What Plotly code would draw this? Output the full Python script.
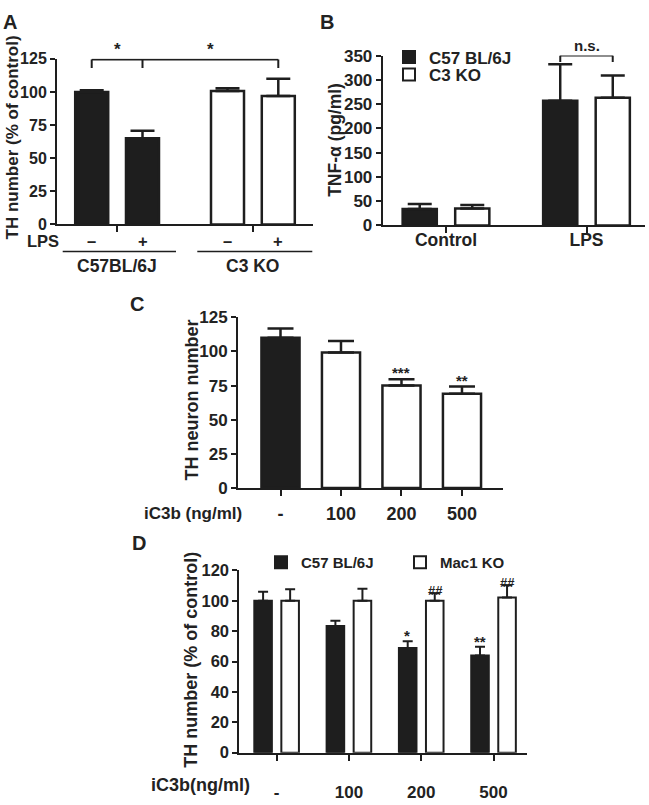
import plotly.graph_objects as go

# ---------------- data ----------------
A_groups = ["C57BL/6J", "C3 KO"]
A_lps_labels = ["–", "+"]
A_lps_minus = [100, 100.7]
A_lps_minus_err = [1.2, 2.0]
A_lps_plus = [65, 97]
A_lps_plus_err = [5.8, 13]

B_categories = ["Control", "LPS"]
B_c57 = [34, 257]
B_c57_err = [10, 75]
B_c3ko = [35, 263]
B_c3ko_err = [7, 46]

C_doses = ["-", "100", "200", "500"]
C_values = [110, 99.3, 75, 69]
C_err = [6.7, 8.3, 4.6, 5.3]
C_sig = ["", "", "***", "**"]

D_doses = ["-", "100", "200", "500"]
D_c57 = [100, 83.5, 69, 64]
D_c57_err = [6, 3.3, 4.3, 5.8]
D_c57_sig = ["", "", "*", "**"]
D_mac1 = [100, 100, 100, 102.2]
D_mac1_err = [7.6, 8, 5, 8.1]
D_mac1_sig = ["", "", "##", "##"]

# ---------------- style ----------------
W, H = 649, 805
BLACK = "#1e1e1e"
WHITE = "#ffffff"
TXT = "#222222"
FAM = "Liberation Sans, Arial, sans-serif"


def px(x):
    return x / W


def py(y):
    return 1 - y / H


def f(size):
    return dict(family=FAM, size=size, color=TXT, weight="bold")


fig = go.Figure()

# ---------- Panel A ----------
gapA = 0.252
offA = (1 - gapA) / 4
xsA = list(range(len(A_groups)))
colorsA = [BLACK, WHITE]
for vals, errs in [(A_lps_minus, A_lps_minus_err), (A_lps_plus, A_lps_plus_err)]:
    fig.add_trace(go.Bar(
        x=xsA, y=vals, xaxis="x", yaxis="y", showlegend=False,
        marker=dict(color=colorsA, line=dict(color=BLACK, width=2.5)),
        error_y=dict(type="data", array=errs, arrayminus=[0] * len(errs), symmetric=False,
                     color=BLACK, thickness=2.5, width=12),
    ))

# ---------- Panel B ----------
gapB = 0.253
offB = (1 - gapB) / 4
xsB = list(range(len(B_categories)))
fig.add_trace(go.Bar(
    x=xsB, y=B_c57, name="C57 BL/6J", xaxis="x2", yaxis="y2", legend="legend",
    marker=dict(color=BLACK, line=dict(color=BLACK, width=2.5)),
    error_y=dict(type="data", array=B_c57_err, arrayminus=[0, 0], symmetric=False,
                 color=BLACK, thickness=2.5, width=12),
))
fig.add_trace(go.Bar(
    x=xsB, y=B_c3ko, name="C3 KO", xaxis="x2", yaxis="y2", legend="legend2",
    marker=dict(color=WHITE, line=dict(color=BLACK, width=2.5)),
    error_y=dict(type="data", array=B_c3ko_err, arrayminus=[0, 0], symmetric=False,
                 color=BLACK, thickness=2.5, width=12),
))

# ---------- Panel C ----------
xsC = list(range(len(C_doses)))
fig.add_trace(go.Bar(
    x=xsC, y=C_values, xaxis="x3", yaxis="y3", showlegend=False, width=0.63,
    marker=dict(color=[BLACK] + [WHITE] * (len(C_values) - 1), line=dict(color=BLACK, width=2.5)),
    error_y=dict(type="data", array=C_err, arrayminus=[0] * len(C_err), symmetric=False,
                 color=BLACK, thickness=2.5, width=13),
))

# ---------- Panel D ----------
gapD = 0.236
offD = (1 - gapD) / 4
xsD = list(range(len(D_doses)))
fig.add_trace(go.Bar(
    x=xsD, y=D_c57, name="C57 BL/6J", xaxis="x4", yaxis="y4", legend="legend3",
    marker=dict(color=BLACK, line=dict(color=BLACK, width=2)),
    error_y=dict(type="data", array=D_c57_err, arrayminus=[0] * 4, symmetric=False,
                 color=BLACK, thickness=2, width=5),
))
fig.add_trace(go.Bar(
    x=xsD, y=D_mac1, name="Mac1 KO", xaxis="x4", yaxis="y4", legend="legend4",
    marker=dict(color=WHITE, line=dict(color=BLACK, width=2)),
    error_y=dict(type="data", array=D_mac1_err, arrayminus=[0] * 4, symmetric=False,
                 color=BLACK, thickness=2, width=5),
))

axis_common = dict(showline=True, linecolor=BLACK, linewidth=2, ticks="outside",
                   tickcolor=BLACK, tickwidth=2, showgrid=False, zeroline=False,
                   fixedrange=True)


def leg(x, y, size):
    return dict(x=px(x), y=py(y), xanchor="left", yanchor="middle", font=f(size),
                bgcolor="rgba(0,0,0,0)", borderwidth=0, itemsizing="constant")


layout = dict(
    width=W, height=H, margin=dict(l=0, r=0, t=0, b=0),
    paper_bgcolor="white", plot_bgcolor="rgba(0,0,0,0)",
    barmode="group", bargap=gapA, bargroupgap=0.35,
    showlegend=True,
    # A
    xaxis=dict(axis_common, domain=[px(57), px(313)], anchor="y", range=[-0.4426, 1.4426],
               tickvals=xsA, showticklabels=False, ticklen=6),
    yaxis=dict(axis_common, domain=[py(220.7), py(51)], anchor="x", range=[0, 125],
               tickvals=[0, 25, 50, 75, 100, 125], ticklen=5, tickfont=f(16), ticklabelstandoff=0),
    # B
    xaxis2=dict(axis_common, domain=[px(382.7), px(645)], anchor="y2", range=[-0.4505, 1.4164],
                tickvals=xsB, ticktext=B_categories, ticklen=6, tickfont=f(17.5), ticklabelstandoff=-8),
    yaxis2=dict(axis_common, domain=[py(221.7), py(47.7)], anchor="x2", range=[0, 350],
                tickvals=list(range(0, 351, 50)), ticklen=5, tickfont=f(17), ticklabelstandoff=0),
    # C
    xaxis3=dict(axis_common, domain=[px(238), px(503)], anchor="y3", range=[-0.7025, 3.678],
                tickvals=xsC, ticktext=C_doses, ticklen=6, tickfont=f(18), ticklabelstandoff=2),
    yaxis3=dict(axis_common, domain=[py(490.7), py(315.7)], anchor="x3", range=[0, 125],
                tickvals=[0, 25, 50, 75, 100, 125], ticklen=5, tickfont=f(17), ticklabelstandoff=0),
    # D
    xaxis4=dict(axis_common, domain=[px(239.3), px(527.3)], anchor="y4", range=[-0.516, 3.467],
                tickvals=xsD, ticktext=D_doses, ticklen=6, tickfont=f(17), ticklabelstandoff=17),
    yaxis4=dict(axis_common, domain=[py(761.7), py(575)], anchor="x4", range=[0, 120],
                tickvals=list(range(0, 121, 20)), ticklen=5, tickfont=f(16.5), ticklabelstandoff=0),
    legend=leg(389, 49.5, 17),
    legend2=leg(389, 67.5, 17),
    legend3=leg(261, 567, 15),
    legend4=leg(400, 567, 15),
)
fig.update_layout(**layout)

ann = []
shapes = []

# panel letters
for letter, x, y in [("A", 9.5, 13), ("B", 326.5, 13), ("C", 137, 302), ("D", 138.5, 546.7)]:
    ann.append(dict(text=letter, x=px(x), y=py(y), xref="paper", yref="paper",
                    xanchor="center", yanchor="middle", showarrow=False, font=f(20)))

# y-axis titles
for text, x, y, size in [("TH number (% of control)", 12, 131.5, 17),
                         ("TNF-α (pg/ml)", 335, 134, 17.5),
                         ("TH neuron number", 192, 401, 18),
                         ("TH number (% of control)", 191, 666.5, 18)]:
    ann.append(dict(text=text, x=px(x), y=py(y), xref="paper", yref="paper", textangle=-90,
                    xanchor="center", yanchor="middle", showarrow=False, font=f(size)))

# Panel A lower labels
ann.append(dict(text="LPS", x=px(43), y=py(238), xref="paper", yref="paper",
                xanchor="center", yanchor="middle", showarrow=False, font=f(16.5)))
for gi in xsA:
    for k, lab in enumerate(A_lps_labels):
        ann.append(dict(text=lab, x=gi + (2 * k - 1) * offA, y=py(238), xref="x", yref="paper",
                        xanchor="center", yanchor="middle", showarrow=False, font=f(16.5)))
    ann.append(dict(text=A_groups[gi], x=gi, y=py(263), xref="x", yref="paper",
                    xanchor="center", yanchor="middle", showarrow=False, font=f(17.5)))
for x0, x1 in [(62.7, 176), (197.3, 312.3)]:
    shapes.append(dict(type="line", xref="paper", yref="paper", x0=px(x0), x1=px(x1),
                       y0=py(248.3), y1=py(248.3), line=dict(color=BLACK, width=1.5)))

# Panel A bracket
yb, yt = 124.5, 118
shapes.append(dict(type="line", xref="x", yref="y", x0=-offA, x1=1 + offA, y0=yb, y1=yb,
                   line=dict(color=BLACK, width=2)))
for xx in [-offA, offA, 1 + offA]:
    shapes.append(dict(type="line", xref="x", yref="y", x0=xx, x1=xx, y0=yb, y1=yt,
                       line=dict(color=BLACK, width=2)))
for xx in [0, (offA + 1 + offA) / 2]:
    ann.append(dict(text="*", x=xx, y=yb, xref="x", yref="y", xanchor="center", yanchor="bottom",
                    showarrow=False, font=f(17), yshift=-2))

# Panel B bracket
shapes.append(dict(type="line", xref="x2", yref="y2", x0=1 - offB, x1=1 + offB, y0=350, y1=350,
                   line=dict(color=BLACK, width=2)))
for xx in [1 - offB, 1 + offB]:
    shapes.append(dict(type="line", xref="x2", yref="y2", x0=xx, x1=xx, y0=350, y1=337,
                       line=dict(color=BLACK, width=2)))
ann.append(dict(text="n.s.", x=1, y=350, xref="x2", yref="y2", xanchor="center", yanchor="bottom",
                showarrow=False, font=f(15), yshift=0))

# Panel C significance + x label
for i, s in enumerate(C_sig):
    if s:
        ann.append(dict(text=s, x=i, y=C_values[i] + C_err[i], xref="x3", yref="y3",
                        xanchor="center", yanchor="bottom", showarrow=False, font=f(15), yshift=-4))
ann.append(dict(text="iC3b (ng/ml)", x=px(193), y=py(517), xref="paper", yref="paper",
                xanchor="center", yanchor="middle", showarrow=False, font=f(17)))

# Panel D significance + x label
for i in xsD:
    if D_c57_sig[i]:
        ann.append(dict(text=D_c57_sig[i], x=i - offD, y=D_c57[i] + D_c57_err[i], xref="x4", yref="y4",
                        xanchor="center", yanchor="bottom", showarrow=False, font=f(15), yshift=-5))
    if D_mac1_sig[i]:
        ann.append(dict(text=D_mac1_sig[i], x=i + offD, y=D_mac1[i] + D_mac1_err[i], xref="x4", yref="y4",
                        xanchor="center", yanchor="bottom", showarrow=False, font=f(13), yshift=-6,
                        borderpad=0))
ann.append(dict(text="iC3b(ng/ml)", x=px(200), y=py(794.5), xref="paper", yref="paper",
                xanchor="center", yanchor="middle", showarrow=False, font=f(18)))

fig.update_layout(annotations=ann, shapes=shapes)
fig.write_html("out.html", config={"displayModeBar": False},
               post_script="document.body.style.margin='0';")
